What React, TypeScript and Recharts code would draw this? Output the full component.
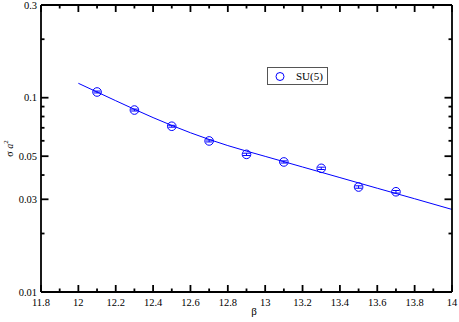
import React from "react";
import { ComposedChart, Line, Scatter, ErrorBar, XAxis, YAxis } from "recharts";

// measured points (beta, sigma a^2, error)
const betaValues = [12.1, 12.3, 12.5, 12.7, 12.9, 13.1, 13.3, 13.5, 13.7];
const sigmaValues = [0.107, 0.0864, 0.0713, 0.0599, 0.0511, 0.0467, 0.0433, 0.0347, 0.0328];
const sigmaErrors = [0.0012, 0.001, 0.0008, 0.0007, 0.0007, 0.0006, 0.0006, 0.0005, 0.0005];

// fit curve
const fitBeta = [12.0, 12.2, 12.4, 12.6, 12.8, 13.0, 13.2, 13.4, 13.6, 13.8, 14.0];
const fitSigma = [0.1186, 0.0965, 0.079, 0.066, 0.0567, 0.0499, 0.044, 0.0388, 0.0342, 0.0302, 0.0266];

const xTicks = [
  11.8, 11.9, 12.0, 12.1, 12.2, 12.3, 12.4, 12.5, 12.6, 12.7, 12.8,
  12.9, 13.0, 13.1, 13.2, 13.3, 13.4, 13.5, 13.6, 13.7, 13.8, 13.9, 14.0,
];
const xMajorTicks = [11.8, 12.0, 12.2, 12.4, 12.6, 12.8, 13.0, 13.2, 13.4, 13.6, 13.8, 14.0];
const yTicks = [0.01, 0.02, 0.03, 0.04, 0.05, 0.06, 0.07, 0.08, 0.09, 0.1, 0.2, 0.3];
const yMajorTicks = [0.01, 0.03, 0.05, 0.1, 0.3];

const points = betaValues.map((beta, i) => ({ beta, sigma: sigmaValues[i], err: sigmaErrors[i] }));
const fit = fitBeta.map((beta, i) => ({ beta, sigma: fitSigma[i] }));

const W = 459;
const H = 322;
const M = { top: 5, right: 7, left: 0, bottom: 0 };
const Y_AXIS_W = 41;
const X_AXIS_H = 30;
const PLOT_W = W - M.right - Y_AXIS_W;
const PLOT_H = H - M.top - X_AXIS_H;

const BLUE = "#0000ff";
const AXIS = "#000";
const AXIS_W = 1.8;
const FONT = "Liberation Serif";

const isMajor = (list: number[], v: number) => list.some((m) => Math.abs(m - v) < 1e-9);

// bottom ticks, mirrored on the top edge
const BottomTick = (props: any) => {
  const { x, y, payload } = props;
  const len = isMajor(xMajorTicks, payload.value) ? 7 : 3.5;
  const top = y - PLOT_H;
  return (
    <g>
      <line x1={x} y1={y} x2={x} y2={y - len} stroke={AXIS} strokeWidth={AXIS_W} />
      <line x1={x} y1={top} x2={x} y2={top + len} stroke={AXIS} strokeWidth={AXIS_W} />
      {len > 5 && (
        <text x={x} y={y + 14} textAnchor="middle" fontSize={10.5} fontFamily={FONT} fill="#000">
          {String(payload.value)}
        </text>
      )}
    </g>
  );
};

// left ticks, mirrored on the right edge
const LeftTick = (props: any) => {
  const { x, y, payload } = props;
  const len = isMajor(yMajorTicks, payload.value) ? 7.5 : 3.5;
  const right = x + PLOT_W;
  return (
    <g>
      <line x1={x} y1={y} x2={x + len} y2={y} stroke={AXIS} strokeWidth={AXIS_W} />
      <line x1={right} y1={y} x2={right - len} y2={y} stroke={AXIS} strokeWidth={AXIS_W} />
      {len > 5 && (
        <text x={x - 4} y={y + 3.5} textAnchor="end" fontSize={10.5} fontFamily={FONT} fill="#000">
          {String(payload.value)}
        </text>
      )}
    </g>
  );
};

const Circle = ({ cx, cy }: any) => (
  <circle cx={cx} cy={cy} r={4.3} fill="none" stroke={BLUE} strokeWidth={1} />
);

export default function App() {
  const left = M.left + Y_AXIS_W;
  const right = W - M.right;
  const top = M.top;
  const bottom = H - X_AXIS_H;
  return (
    <div style={{ position: "absolute", left: 0, top: 0, width: W, height: H, background: "#fff" }}>
      <ComposedChart width={W} height={H} margin={M}>
        <XAxis
          xAxisId="b"
          dataKey="beta"
          type="number"
          domain={[11.8, 14]}
          allowDataOverflow
          ticks={xTicks}
          interval={0}
          height={X_AXIS_H}
          tickSize={0}
          tickMargin={0}
          tickLine={false}
          axisLine={{ stroke: AXIS, strokeWidth: AXIS_W }}
          tick={<BottomTick />}
        />
        <YAxis
          yAxisId="l"
          type="number"
          scale="log"
          domain={[0.01, 0.3]}
          allowDataOverflow
          ticks={yTicks}
          interval={0}
          width={Y_AXIS_W}
          tickSize={0}
          tickMargin={0}
          tickLine={false}
          axisLine={{ stroke: AXIS, strokeWidth: AXIS_W }}
          tick={<LeftTick />}
        />
        <Line
          xAxisId="b"
          yAxisId="l"
          data={fit}
          dataKey="sigma"
          type="monotone"
          stroke={BLUE}
          strokeWidth={1}
          dot={false}
          activeDot={false}
          isAnimationActive={false}
        />
        <Scatter
          xAxisId="b"
          yAxisId="l"
          data={points}
          dataKey="sigma"
          shape={<Circle />}
          isAnimationActive={false}
        >
          <ErrorBar dataKey="err" direction="y" width={3.5} stroke={BLUE} strokeWidth={1} />
        </Scatter>
      </ComposedChart>
      {/* frame top/right edges and axis titles */}
      <svg
        width={W}
        height={H}
        style={{ position: "absolute", left: 0, top: 0, pointerEvents: "none" }}
      >
        <line x1={left} y1={top} x2={right} y2={top} stroke={AXIS} strokeWidth={AXIS_W} />
        <line x1={right} y1={top} x2={right} y2={bottom} stroke={AXIS} strokeWidth={AXIS_W} />
        <text
          transform={`translate(12.5, ${top + PLOT_H / 2}) rotate(-90)`}
          textAnchor="middle"
          fontSize={10}
          fontFamily={FONT}
          fill="#000"
        >
          σ <tspan fontStyle="italic">a</tspan>
          <tspan fontSize={7} dy={-5}>2</tspan>
        </text>
        <text x={254} y={315} textAnchor="middle" fontSize={11} fontFamily={FONT} fill="#000">
          β
        </text>
      </svg>
      <div
        style={{
          position: "absolute",
          left: 267,
          top: 67,
          width: 59,
          height: 16,
          border: "1px solid #555",
          background: "#fff",
          fontFamily: FONT,
          fontSize: 11,
          lineHeight: "16px",
        }}
      >
        <svg width={20} height={16} style={{ position: "absolute", left: 0, top: 0 }}>
          <circle cx={12} cy={8.5} r={4} fill="none" stroke={BLUE} strokeWidth={1} />
        </svg>
        <span style={{ position: "absolute", left: 28, top: 0 }}>SU(5)</span>
      </div>
    </div>
  );
}
